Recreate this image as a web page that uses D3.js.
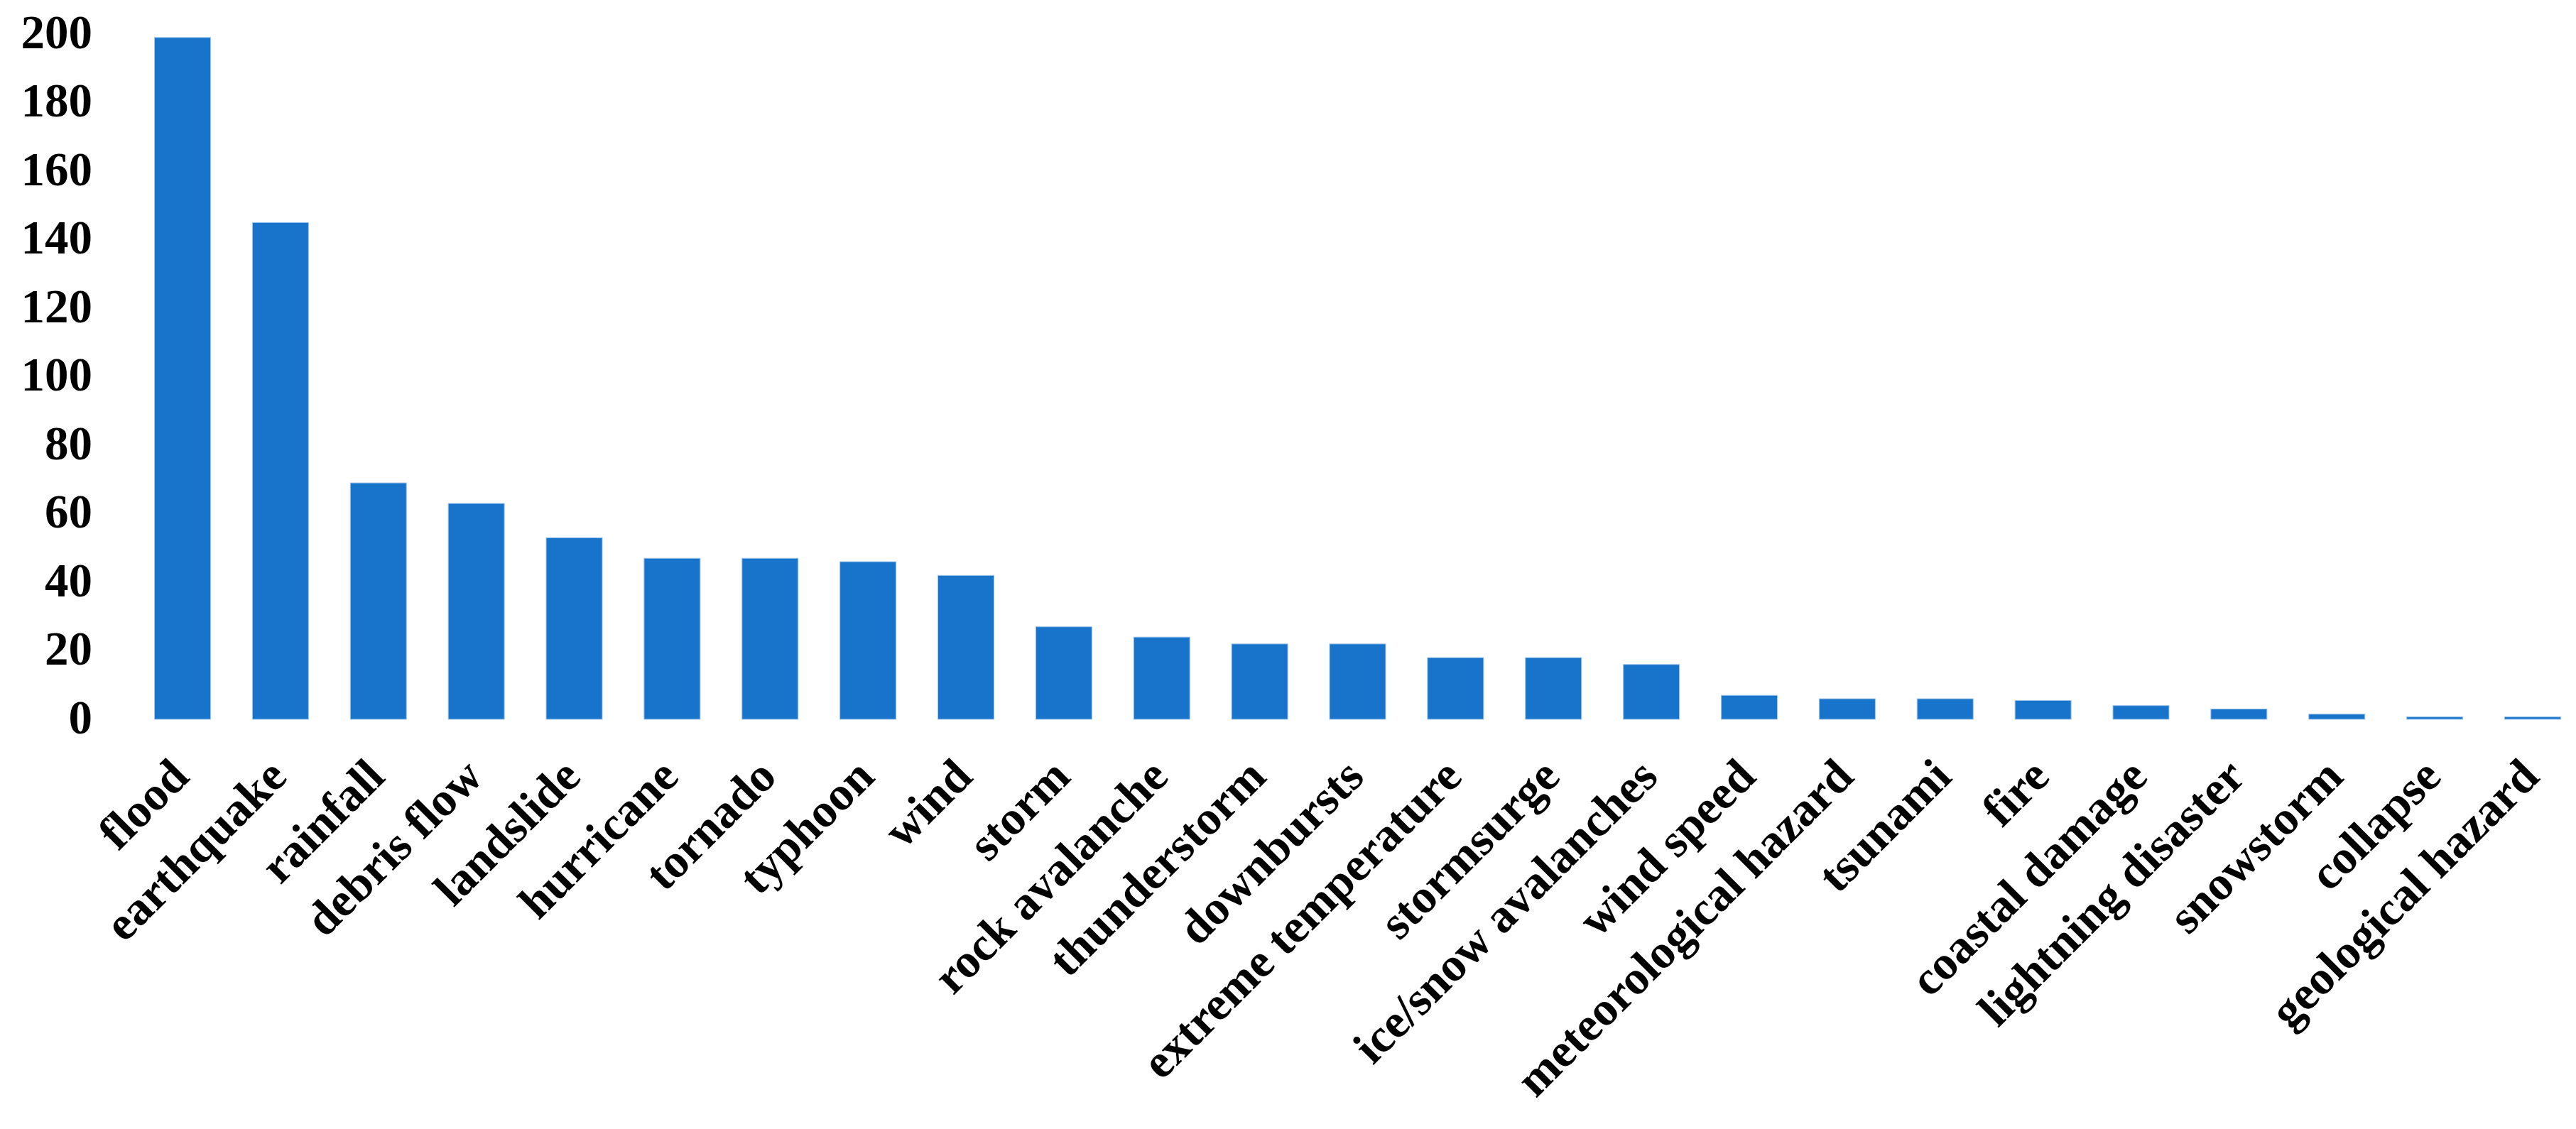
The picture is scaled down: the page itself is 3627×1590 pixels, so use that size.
<!DOCTYPE html>
<html>
<head>
<meta charset="utf-8">
<script src="https://cdn.jsdelivr.net/npm/d3@7"></script>
<style>
  body { margin: 0; background: #fff; }
  text { font-family: "Liberation Serif", "Times New Roman", serif; font-weight: bold; fill: #000; }
</style>
</head>
<body>
<div id="chart"></div>
<script>
// categories and counts
var categories = ["flood", "earthquake", "rainfall", "debris flow", "landslide", "hurricane",
  "tornado", "typhoon", "wind", "storm", "rock avalanche", "thunderstorm", "downbursts",
  "extreme temperature", "stormsurge", "ice/snow avalanches", "wind speed",
  "meteorological hazard", "tsunami", "fire", "coastal damage", "lightning disaster",
  "snowstorm", "collapse", "geological hazard"];
var counts = [199, 145, 69, 63, 53, 47, 47, 46, 42, 27, 24, 22, 22, 18, 18, 16, 7, 6, 6, 5.5, 4, 3, 1.5, 0.7, 0.7];
var yTicks = [0, 20, 40, 60, 80, 100, 120, 140, 160, 180, 200];

var width = 3627;
var height = 1590;

var svg = d3.select("#chart")
  .append("svg")
  .attr("width", width)
  .attr("height", height);

svg.append("rect").attr("width", width).attr("height", height).attr("fill", "#fff");

var x = d3.scaleBand()
  .domain(categories)
  .range([217.5, 3605.5])
  .paddingInner(0.427)
  .paddingOuter(0);

var y = d3.scaleLinear()
  .domain([0, 200])
  .range([1013, 48]);

// bars
svg.append("g")
  .selectAll("rect")
  .data(categories)
  .enter()
  .append("rect")
  .attr("x", function(d) { return x(d); })
  .attr("width", x.bandwidth())
  .attr("y", function(d, i) { return y(counts[i]); })
  .attr("height", function(d, i) { return y(0) - y(counts[i]); })
  .attr("fill", "#1874CB")
  .attr("stroke", "#9fc5ec")
  .attr("stroke-width", 1);

// y axis, labels only
var yAxis = svg.append("g")
  .attr("transform", "translate(130,0)")
  .call(d3.axisLeft(y).tickValues(yTicks).tickSize(0).tickPadding(0));
yAxis.select(".domain").remove();
yAxis.selectAll("text")
  .attr("dy", "0.29em")
  .style("font-size", "67px")
  .style("font-family", "'Liberation Serif', 'Times New Roman', serif")
  .style("font-weight", "bold")
  .attr("fill", "#000");

// x axis, rotated labels
var xAxis = svg.append("g")
  .attr("transform", "translate(0,1013)")
  .call(d3.axisBottom(x).tickSize(0).tickPadding(0));
xAxis.select(".domain").remove();
xAxis.selectAll("text")
  .attr("y", 0)
  .attr("dy", 0)
  .attr("text-anchor", "end")
  .attr("transform", "translate(12,84) rotate(-45)")
  .style("font-size", "67px")
  .style("font-family", "'Liberation Serif', 'Times New Roman', serif")
  .style("font-weight", "bold")
  .attr("fill", "#000");
</script>
</body>
</html>
